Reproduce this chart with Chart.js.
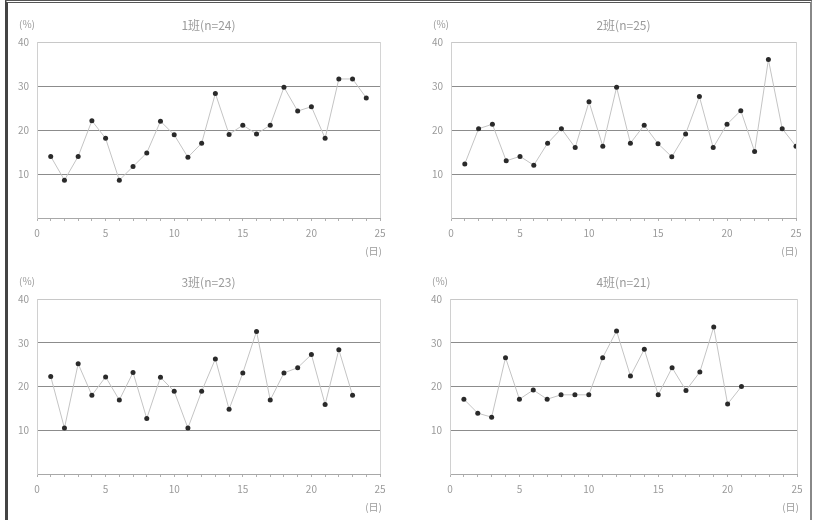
<!DOCTYPE html>
<html>
<head>
<meta charset="utf-8">
<script src="https://cdn.jsdelivr.net/npm/chart.js@4/dist/chart.umd.min.js"></script>
<style>
  html, body { margin: 0; padding: 0; background: #fff; }
  #page { position: relative; width: 813px; height: 520px; overflow: hidden; }
  #frame { position: absolute; left: 5px; top: 0; width: 802px; height: 530px;
           border-top: 3px double #555; border-left: 3px solid #444; border-right: 2px solid #888; }
  canvas { position: absolute; }
</style>
</head>
<body>
<div id="page">
  <div id="frame"></div>
  <canvas id="c1" width="406" height="258" style="left:0;top:0"></canvas>
  <canvas id="c2" width="407" height="258" style="left:406px;top:0"></canvas>
  <canvas id="c3" width="406" height="262" style="left:0;top:258px"></canvas>
  <canvas id="c4" width="407" height="262" style="left:406px;top:258px"></canvas>
</div>
<script>
// days of the month on the x axis
const days = [1, 2, 3, 4, 5, 6, 7, 8, 9, 10, 11, 12, 13, 14, 15, 16, 17, 18, 19, 20, 21, 22, 23, 24, 25];

const titles = ['1班(n=24)', '2班(n=25)', '3班(n=23)', '4班(n=21)'];
const unitLabel = '(%)';
const xTitle = '(日)';

const xTicks = [0, 5, 10, 15, 20, 25];
const yTicks = [10, 20, 30, 40];

const shift1 = [14, 8.6, 14, 22.1, 18.1, 8.6, 11.7, 14.8, 22, 18.9, 13.8, 17, 28.3, 19, 21.1, 19.1, 21.1, 29.7, 24.3, 25.3, 18.1, 31.6, 31.6, 27.3];
const shift2 = [12.3, 20.3, 21.3, 13, 14, 12, 17, 20.3, 16, 26.4, 16.3, 29.7, 17, 21.1, 16.9, 13.9, 19.1, 27.6, 16, 21.3, 24.4, 15.1, 36, 20.3, 16.3];
const shift3 = [22.3, 10.5, 25.2, 18, 22.2, 16.9, 23.2, 12.7, 22.1, 18.9, 10.5, 18.9, 26.3, 14.8, 23.1, 32.6, 16.9, 23.1, 24.3, 27.3, 15.9, 28.4, 18];
const shift4 = [17.1, 13.9, 13, 26.6, 17.1, 19.2, 17.1, 18.1, 18.1, 18.1, 26.6, 32.7, 22.4, 28.5, 18.1, 24.3, 19.1, 23.3, 33.6, 16, 20];

const textColor = '#9a9a9a';
const fontFamily = "'Noto Sans CJK SC', 'DejaVu Sans', sans-serif";

// title, unit and x title are drawn around the chart area
const decorations = {
    id: 'decorations',
    afterDraw(chart, args, opts) {
        const ctx = chart.ctx;
        const area = chart.chartArea;
        ctx.save();
        // right frame of the plot
        ctx.strokeStyle = '#d4d4d4';
        ctx.lineWidth = 1;
        ctx.beginPath();
        ctx.moveTo(area.right + 0.5, area.top);
        ctx.lineTo(area.right + 0.5, area.bottom);
        ctx.stroke();

        ctx.fillStyle = textColor;
        ctx.textBaseline = 'middle';
        ctx.font = '12px ' + fontFamily;
        ctx.textAlign = 'center';
        ctx.fillText(opts.title, (area.left + area.right) / 2, area.top - 17);

        ctx.font = '10px ' + fontFamily;
        ctx.textAlign = 'right';
        ctx.fillText(unitLabel, area.left - 2, area.top - 18);
        ctx.fillText(xTitle, area.right + 2, area.bottom + 33);
        ctx.restore();
    }
};

function makeChart(id, title, values, pad, yWidth, xHeight) {
    const points = values.map((v, i) => ({ x: days[i], y: v }));
    return new Chart(document.getElementById(id).getContext('2d'), {
        type: 'line',
        data: {
            datasets: [{
                data: points,
                borderColor: '#c4c4c4',
                borderWidth: 1,
                pointRadius: 2.5,
                pointBackgroundColor: '#2a2a2a',
                pointBorderWidth: 0,
                tension: 0,
            }]
        },
        options: {
            responsive: false,
            animation: false,
            layout: { padding: pad },
            plugins: {
                legend: { display: false },
                tooltip: { enabled: false },
                decorations: { title: title },
            },
            scales: {
                x: {
                    type: 'linear',
                    min: 0,
                    max: 25,
                    afterBuildTicks: (scale) => {
                        scale.ticks = days.concat([0]).sort((a, b) => a - b).map(v => ({ value: v }));
                    },
                    afterFit: (scale) => { scale.height = xHeight; },
                    ticks: {
                        autoSkip: false,
                        maxRotation: 0,
                        padding: 6,
                        color: textColor,
                        font: { size: 10, family: fontFamily },
                        callback: (v) => xTicks.includes(v) ? String(v) : '',
                    },
                    grid: {
                        drawOnChartArea: false,
                        drawTicks: true,
                        tickLength: 3,
                        color: '#b0b0b0',
                    },
                    border: { color: '#a8a8a8', dash: [2, 2] },
                },
                y: {
                    min: 0,
                    max: 40,
                    afterFit: (scale) => { scale.width = yWidth; },
                    ticks: {
                        stepSize: 10,
                        padding: 8,
                        color: textColor,
                        font: { size: 10, family: fontFamily },
                        callback: (v) => yTicks.includes(v) ? String(v) : '',
                    },
                    grid: {
                        drawTicks: false,
                        color: (c) => c.tick.value === 40 ? '#c8c8c8' : (c.tick.value === 0 ? 'rgba(0,0,0,0)' : '#8c8c8c'),
                    },
                    border: { color: '#d0d0d0' },
                }
            }
        },
        plugins: [decorations],
    });
}

makeChart('c1', titles[0], shift1, { top: 42, right: 26, bottom: 0, left: 0 }, 37, 40);
makeChart('c2', titles[1], shift2, { top: 42, right: 17, bottom: 0, left: 0 }, 45, 40);
makeChart('c3', titles[2], shift3, { top: 41, right: 26, bottom: 0, left: 0 }, 37, 46);
makeChart('c4', titles[3], shift4, { top: 41, right: 16, bottom: 0, left: 0 }, 44, 46);
</script>
</body>
</html>
